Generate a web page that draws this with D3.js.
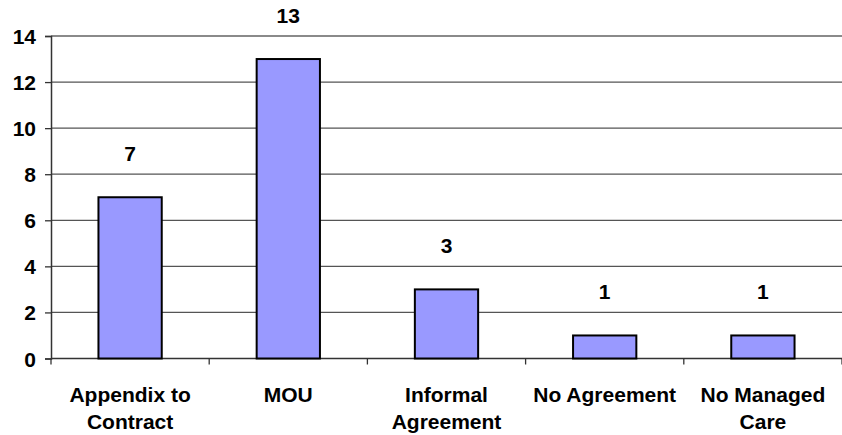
<!DOCTYPE html>
<html>
<head>
<meta charset="utf-8">
<script src="https://cdn.jsdelivr.net/npm/d3@7"></script>
<style>
  html, body { margin: 0; padding: 0; background: #fff; }
  svg text { font-family: "Liberation Sans", Arial, sans-serif; font-weight: bold; fill: #000; }
</style>
</head>
<body>
<svg id="chart" width="842" height="435"></svg>
<script>
// Agreement types and their counts
const categories = [["Appendix to", "Contract"], ["MOU"], ["Informal", "Agreement"], ["No Agreement"], ["No Managed", "Care"]];
const values = [7, 13, 3, 1, 1];
const yTicks = [0, 2, 4, 6, 8, 10, 12, 14];

const FS = "21px";
const svg = d3.select("#chart");
const margin = { left: 51, right: 0, top: 36, bottom: 76.5 };
const W = 842, H = 435;

const x = d3.scaleBand()
  .domain(d3.range(categories.length))
  .range([margin.left, W - margin.right])
  .paddingInner(0.6).paddingOuter(0.3);

const y = d3.scaleLinear().domain([0, 14]).range([H - margin.bottom, margin.top]);

// horizontal gridlines
svg.append("g")
  .selectAll("line")
  .data(yTicks.filter(d => d > 0))
  .join("line")
  .attr("x1", margin.left).attr("x2", W)
  .attr("y1", d => y(d)).attr("y2", d => y(d))
  .attr("stroke", d => d === 14 ? "#8a8a8a" : "#555")
  .attr("stroke-width", d => d === 14 ? 2 : 1.3);

// y axis
const yAxis = svg.append("g")
  .attr("transform", `translate(${margin.left},0)`)
  .call(d3.axisLeft(y).tickValues(yTicks).tickSize(6).tickPadding(9));
yAxis.select(".domain").attr("stroke", "#333").attr("stroke-width", 1.5);
yAxis.selectAll(".tick line").attr("stroke", "#333").attr("stroke-width", 1.3);
yAxis.selectAll(".tick text").style("font-size", FS).style("font-family", "Liberation Sans, Arial, sans-serif").style("font-weight", "bold").attr("dy", "0.36em");

// x axis line and ticks at category boundaries
const bounds = d3.range(categories.length + 1).map(i => margin.left + i * x.step());
svg.append("line")
  .attr("x1", margin.left).attr("x2", W)
  .attr("y1", y(0)).attr("y2", y(0))
  .attr("stroke", "#333").attr("stroke-width", 1.5);
svg.append("g").selectAll("line")
  .data(bounds)
  .join("line")
  .attr("x1", d => d).attr("x2", d => d)
  .attr("y1", y(0)).attr("y2", y(0) + 6)
  .attr("stroke", "#333").attr("stroke-width", 1.3);

// bars
svg.append("g").selectAll("rect")
  .data(values)
  .join("rect")
  .attr("x", (d, i) => x(i))
  .attr("width", x.bandwidth())
  .attr("y", d => y(d))
  .attr("height", d => y(0) - y(d))
  .attr("fill", "#9999FF")
  .attr("stroke", "#000")
  .attr("stroke-width", 2);

// value labels
svg.append("g").selectAll("text")
  .data(values)
  .join("text")
  .attr("x", (d, i) => x(i) + x.bandwidth() / 2)
  .attr("y", d => y(d) - 36.5)
  .attr("text-anchor", "middle")
  .style("font-size", FS)
  .text(d => d);

// category labels
const catG = svg.append("g").selectAll("text")
  .data(categories)
  .join("text")
  .attr("x", (d, i) => x(i) + x.bandwidth() / 2)
  .attr("y", 402)
  .attr("text-anchor", "middle")
  .style("font-size", FS);
catG.selectAll("tspan")
  .data(d => d)
  .join("tspan")
  .attr("x", function () { return this.parentNode.getAttribute("x"); })
  .attr("dy", (d, i) => i === 0 ? 0 : 27)
  .text(d => d);
</script>
</body>
</html>
